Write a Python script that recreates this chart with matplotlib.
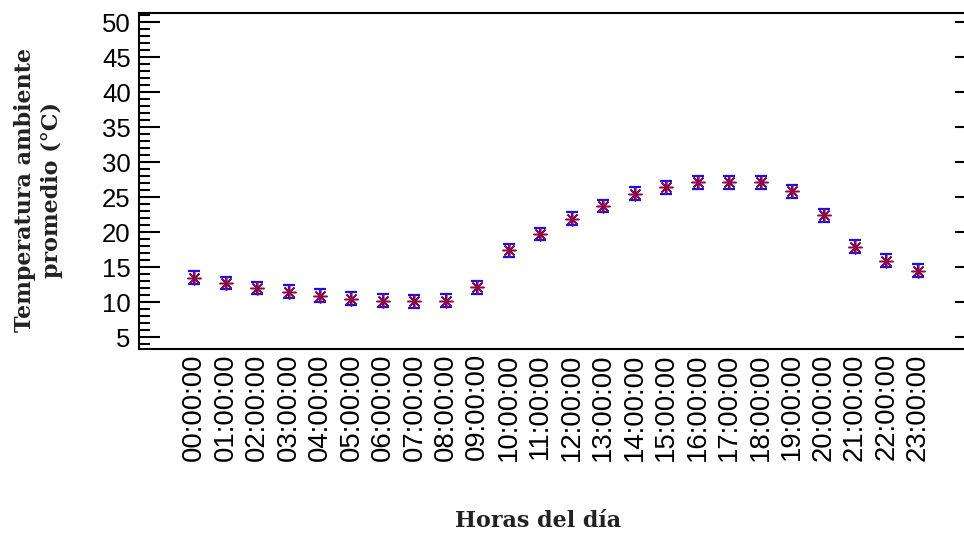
import numpy as np
import matplotlib
matplotlib.use("Agg")
import matplotlib.pyplot as plt
from matplotlib.ticker import MultipleLocator

# hourly mean ambient temperature with its error
horas = ["%02d:00:00" % h for h in range(24)]
temp = [13.5, 12.7, 12.0, 11.5, 10.9, 10.5, 10.2, 10.1, 10.2, 12.1, 17.4, 19.7,
        21.9, 23.7, 25.5, 26.4, 27.1, 27.1, 27.1, 25.8, 22.4, 17.9, 15.9, 14.5]
err = [0.9, 0.9, 0.9, 0.9, 0.9, 0.9, 0.9, 0.9, 0.9, 0.9, 0.9, 0.9,
       0.9, 0.9, 0.9, 0.9, 0.9, 0.9, 0.9, 0.9, 0.9, 0.9, 0.9, 0.9]

plt.rcParams['font.family'] = ['Liberation Sans', 'DejaVu Sans']

fig = plt.figure(figsize=(9.64, 5.35), dpi=100)
ax = fig.add_axes([0.1442, 0.3477, 0.858, 0.628])

x = np.arange(len(horas))
ax.errorbar(x, temp, yerr=err, fmt='none', ecolor='#1010ff', elinewidth=1.6,
            capsize=4.5, capthick=1.6, zorder=2)
ax.plot(x, temp, linestyle='none', marker=(8, 2, 0), markersize=10,
        markeredgecolor='#8a0a4a', markeredgewidth=1.1, zorder=3)

ax.set_xlim(-1.75, 24.53)
ax.set_ylim(3.3, 51.3)
ax.set_xticks(x)
ax.set_xticklabels(horas, rotation=90, fontsize=19.8)
ax.set_yticks(np.arange(5, 51, 5))
ax.yaxis.set_minor_locator(MultipleLocator(1))
ax.tick_params(axis='y', which='major', direction='in', length=15, width=1.5,
               labelsize=18.5, pad=6)
ax.tick_params(axis='y', which='minor', direction='in', length=8, width=1.5)
ax.tick_params(axis='x', length=0, pad=3)

for s in ['left', 'top', 'bottom']:
    ax.spines[s].set_linewidth(1.5)
ax.spines['right'].set_visible(False)

# right side: inward major ticks only, no labels, no spine
sec = ax.secondary_yaxis('right')
sec.set_yticks(np.arange(5, 51, 5))
sec.tick_params(direction='in', length=8, width=1.5, labelright=False)
sec.spines['right'].set_visible(False)

lab = dict(family='DejaVu Serif', fontweight='bold', fontsize=16, color='#222222')
fig.text(0.558, 0.005, "Horas del día", ha='center', va='bottom', **lab)
fig.text(0.04, 0.645, "Temperatura ambiente\npromedio (°C)", ha='center',
         va='center', rotation=90, linespacing=1.3, **lab)

fig.savefig("out.png", dpi=100)
